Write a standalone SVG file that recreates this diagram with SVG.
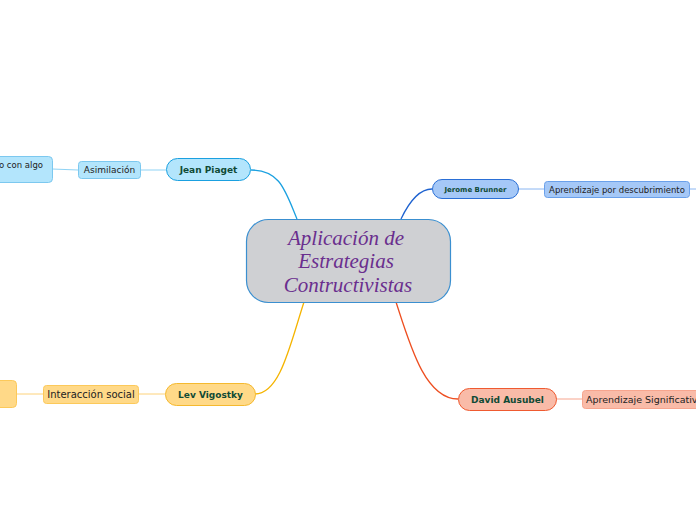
<svg xmlns="http://www.w3.org/2000/svg" width="696" height="520" viewBox="0 0 696 520">
<style>
.main{font-family:"DejaVu Sans",Verdana,sans-serif;font-weight:bold;fill:#0f4a35;text-anchor:middle}
.sub{font-family:"DejaVu Sans",Verdana,sans-serif;fill:#222;text-anchor:middle}
.c{fill:none;stroke-width:1.3}
.l{fill:none;stroke-width:1}
</style>
<rect width="696" height="520" fill="#ffffff"/>
<g id="connectors">
<path class="c" stroke="#1aa0e0" d="M251,170 C280,170 285,190 297,219"/>
<path class="l" stroke="#8fd3f5" d="M140,170 L166,170 M52,169 L78,170"/>
<path class="c" stroke="#1f63d0" d="M401,219 C410,200 420,189 432,189"/>
<path class="l" stroke="#8ab6f2" d="M518,189 L544,189 M690,189 L696,189"/>
<path class="c" stroke="#f5b400" d="M304,302 C290,345 280,394 255,394"/>
<path class="l" stroke="#fdd27a" d="M139,394 L165,394 M17,394 L43,394"/>
<path class="c" stroke="#ee4e20" d="M396,302 C410,345 425,399 458,399"/>
<path class="l" stroke="#f7a58e" d="M556,399 L582,399"/>
</g>
<g id="center">
<rect x="246.5" y="219.5" width="204" height="83" rx="22" fill="#cfd0d3" stroke="#3a8fd0" stroke-width="1.2"/>
<g font-family="'Liberation Serif','Times New Roman',serif" font-style="italic" font-size="21" fill="#6a2e8e" text-anchor="middle">
<text x="346" y="245">Aplicación de</text>
<text x="346" y="268">Estrategias</text>
<text x="348" y="292">Contructivistas</text>
</g>
</g>
<g id="piaget">
<rect x="166.5" y="158.5" width="84" height="22" rx="11" fill="#b3e5fc" stroke="#1aa0e0"/>
<text class="main" x="208.5" y="173" font-size="9">Jean Piaget</text>
</g>
<g id="asimilacion">
<rect x="78.5" y="161.5" width="62" height="17" rx="3" fill="#b3e5fc" stroke="#7cc8ef"/>
<text class="sub" x="109.5" y="173" font-size="9">Asimilación</text>
</g>
<g id="asim-child">
<rect x="-10.5" y="156.5" width="63" height="26" rx="4" fill="#b3e5fc" stroke="#7cc8ef"/>
<text class="sub" x="43" y="168" font-size="8.5" style="text-anchor:end">o con algo</text>
</g>
<g id="brunner">
<rect x="432.5" y="179.5" width="86" height="19" rx="9.5" fill="#a5c8f7" stroke="#2a6fd6"/>
<text class="main" x="475.5" y="192" font-size="7">Jerome Brunner</text>
</g>
<g id="descubrimiento">
<rect x="544.5" y="181.5" width="145" height="16" rx="3" fill="#a5c8f7" stroke="#6aa0ea"/>
<text class="sub" x="617" y="192.5" font-size="8.5">Aprendizaje por descubrimiento</text>
</g>
<g id="vigostky">
<rect x="165.5" y="383.5" width="90" height="22" rx="11" fill="#ffd988" stroke="#f5b92e"/>
<text class="main" x="210.5" y="398" font-size="9">Lev Vigostky</text>
</g>
<g id="interaccion">
<rect x="43.5" y="385.5" width="95" height="18" rx="3" fill="#ffd988" stroke="#fcc95a"/>
<text class="sub" x="91" y="398" font-size="10">Interacción social</text>
</g>
<g id="inter-child">
<rect x="-10.5" y="380.5" width="27" height="27" rx="4" fill="#ffd988" stroke="#fcc95a"/>
</g>
<g id="ausubel">
<rect x="458.5" y="388.5" width="98" height="22" rx="11" fill="#f9bba8" stroke="#ef5a30"/>
<text class="main" x="507.5" y="403" font-size="9">David Ausubel</text>
</g>
<g id="significativo">
<rect x="582.5" y="390.5" width="125" height="18" rx="3" fill="#f9bba8" stroke="#f7a58e"/>
<text class="sub" x="586" y="403" font-size="9.5" style="text-anchor:start">Aprendizaje Significativo</text>
</g>
</svg>
